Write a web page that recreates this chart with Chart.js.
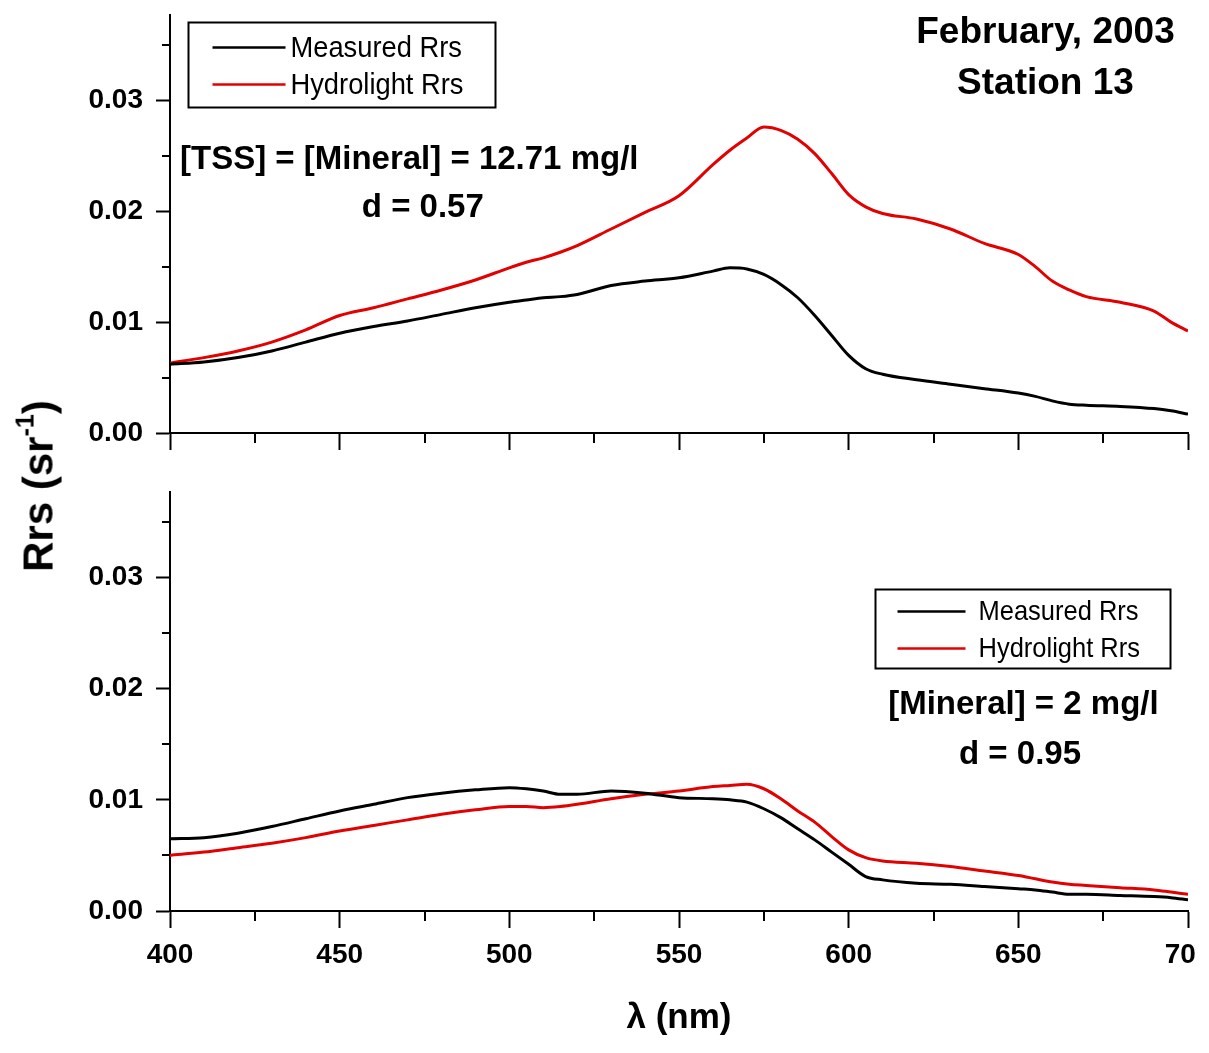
<!DOCTYPE html>
<html>
<head>
<meta charset="utf-8">
<script src="https://cdn.jsdelivr.net/npm/chart.js@4.4.0/dist/chart.umd.min.js"></script>
<style>
  body { margin: 0; background: #fff; }
  #page { position: relative; width: 1209px; height: 1053px; background: #fff; overflow: hidden; }
  canvas { position: absolute; left: 0; }
  #top-chart { top: 0; }
  #bottom-chart { top: 470px; }
  #y-title {
    position: absolute; left: 36px; top: 486px;
    transform: translate(-50%, -50%) rotate(-90deg);
    font: bold 42px 'Liberation Sans', Arial, sans-serif;
    white-space: nowrap; line-height: 1; color: #000;
  }
  #y-title sup { font-size: 60%; vertical-align: 0.75em; }
</style>
</head>
<body>
<div id="page">
  <canvas id="top-chart" width="1196" height="470"></canvas>
  <canvas id="bottom-chart" width="1196" height="583"></canvas>
  <div id="y-title">Rrs (sr<sup>-1</sup>)</div>
</div>
<script>
const FONT = "'Liberation Sans', Arial, sans-serif"
const RED = 'rgb(226, 0, 0)'

// wavelengths (nm) shared by all four curves
const wavelengths = [400, 410, 420, 430, 440, 450, 460, 470, 480, 490, 500, 505, 510, 515, 520, 530, 540, 550, 560, 565,
    570, 575, 580, 585, 590, 595, 600, 605, 610, 620, 630, 640, 650, 655, 660, 665, 670, 680, 690, 695, 700]

// February 2003, station 13 - [TSS] = 12.71 mg/l
const topMeasured = [0.0062, 0.0064, 0.0068, 0.0074, 0.0082, 0.0090, 0.0096, 0.0101, 0.0107, 0.0113, 0.0118, 0.0120, 0.0122,
    0.0123, 0.0125, 0.0133, 0.0137, 0.0140, 0.0146, 0.0149, 0.0148, 0.0143, 0.0134, 0.0122, 0.0106, 0.0088, 0.0070, 0.0058,
    0.0053, 0.0048, 0.0044, 0.0040, 0.0036, 0.0033, 0.0029, 0.0026, 0.0025, 0.0024, 0.0022, 0.0020, 0.0017]
const topHydrolight = [0.0063, 0.0068, 0.0074, 0.0082, 0.0093, 0.0106, 0.0113, 0.0121, 0.0129, 0.0138, 0.0149, 0.0154, 0.0158,
    0.0163, 0.0169, 0.0184, 0.0199, 0.0214, 0.0242, 0.0255, 0.0266, 0.0276, 0.0273, 0.0265, 0.0252, 0.0234, 0.0215, 0.0204,
    0.0198, 0.0193, 0.0184, 0.0171, 0.0161, 0.0150, 0.0137, 0.0129, 0.0123, 0.0118, 0.0110, 0.0100, 0.0092]

// [Mineral] = 2 mg/l
const bottomMeasured = [0.0065, 0.0066, 0.0070, 0.0076, 0.0083, 0.0090, 0.0096, 0.0102, 0.0106, 0.0109, 0.0111, 0.0110, 0.0108,
    0.0105, 0.0105, 0.0108, 0.0106, 0.0102, 0.0101, 0.0100, 0.0098, 0.0092, 0.0084, 0.0074, 0.0064, 0.0053, 0.0042, 0.0031,
    0.0028, 0.0025, 0.0024, 0.0022, 0.0020, 0.0019, 0.0017, 0.0015, 0.0015, 0.0014, 0.0013, 0.0012, 0.0010]
const bottomHydrolight = [0.0050, 0.0053, 0.0057, 0.0061, 0.0066, 0.0072, 0.0077, 0.0082, 0.0087, 0.0091, 0.0094, 0.0094, 0.0093,
    0.0094, 0.0096, 0.0101, 0.0105, 0.0108, 0.0112, 0.0113, 0.0114, 0.0110, 0.0101, 0.0090, 0.0080, 0.0067, 0.0055, 0.0048,
    0.0045, 0.0043, 0.0040, 0.0036, 0.0032, 0.0029, 0.0026, 0.0024, 0.0023, 0.0021, 0.0019, 0.0017, 0.0015]

const seriesLabels = ['Measured Rrs', 'Hydrolight Rrs']
const xMinorTicks = [425, 475, 525, 575, 625, 675]
const yMinorTicks = [0.005, 0.015, 0.025, 0.035]

// text notes, placed in data units (nm, sr^-1)
const topNotes = [
    { text: 'February, 2003', x: 658, y: 0.0361, size: 37 },
    { text: 'Station 13', x: 658, y: 0.0315, size: 37 },
    { text: '[TSS] = [Mineral] = 12.71 mg/l', x: 470.5, y: 0.0246, size: 33 },
    { text: 'd = 0.57', x: 474.5, y: 0.0203, size: 33 }
]
const bottomNotes = [
    { text: '[Mineral] = 2 mg/l', x: 651.5, y: 0.0185, size: 33 },
    { text: 'd = 0.95', x: 650.5, y: 0.0140, size: 33 }
]


const minorTicks = {
    id: 'minorTicks',
    afterDraw(chart) {
        const { ctx, chartArea, scales: { x, y } } = chart
        ctx.save()
        ctx.strokeStyle = '#000'
        ctx.lineWidth = 2
        ctx.beginPath()
        for (const v of xMinorTicks) {
            const px = Math.round(x.getPixelForValue(v))
            ctx.moveTo(px, chartArea.bottom)
            ctx.lineTo(px, chartArea.bottom + 10)
        }
        for (const v of yMinorTicks) {
            const py = Math.round(y.getPixelForValue(v))
            ctx.moveTo(chartArea.left, py)
            ctx.lineTo(chartArea.left - 8, py)
        }
        ctx.stroke()
        ctx.restore()
    }
}

const notes = {
    id: 'notes',
    afterDatasetsDraw(chart, args, opts) {
        const { ctx, scales: { x, y } } = chart
        ctx.save()
        ctx.fillStyle = '#000'
        ctx.textAlign = 'center'
        ctx.textBaseline = 'middle'
        for (const n of opts.texts) {
            ctx.font = `bold ${n.size}px ${FONT}`
            ctx.fillText(n.text, x.getPixelForValue(n.x), y.getPixelForValue(n.y))
        }

        // boxed legend inside the plot
        const lg = opts.legend
        const left = Math.round(x.getPixelForValue(lg.x)) + 0.5
        const top = Math.round(y.getPixelForValue(lg.y)) + 0.5
        ctx.fillStyle = '#fff'
        ctx.fillRect(left, top, lg.w, lg.h)
        ctx.strokeStyle = '#000'
        ctx.lineWidth = 2
        ctx.strokeRect(left, top, lg.w, lg.h)
        ctx.textAlign = 'left'
        ctx.font = `${lg.size}px ${FONT}`
        chart.data.datasets.forEach((ds, i) => {
            const ry = top + lg.rows[i]
            ctx.strokeStyle = ds.borderColor
            ctx.lineWidth = 2.5
            ctx.beginPath()
            ctx.moveTo(left + lg.lineFrom, ry)
            ctx.lineTo(left + lg.lineTo, ry)
            ctx.stroke()
            ctx.save()
            ctx.translate(left + lg.textAt, ry)
            ctx.scale(0.91, 1)
            ctx.fillStyle = '#000'
            ctx.fillText(ds.label, 0, 1)
            ctx.restore()
        })
        ctx.restore()
    }
}

const makeChart = (canvasId, measured, hydrolight, cfg) => {
    const tickFont = { family: FONT, size: 28, weight: 'bold' }
    return new Chart(document.getElementById(canvasId), {
        type: 'line',
        data: {
            datasets: [{
                label: seriesLabels[0],
                data: wavelengths.map((w, i) => ({ x: w, y: measured[i] })),
                borderColor: '#000',
                borderWidth: 3,
                pointRadius: 0,
                cubicInterpolationMode: 'monotone'
            }, {
                label: seriesLabels[1],
                data: wavelengths.map((w, i) => ({ x: w, y: hydrolight[i] })),
                borderColor: RED,
                borderWidth: 3,
                pointRadius: 0,
                cubicInterpolationMode: 'monotone'
            }]
        },
        options: {
            responsive: false,
            animation: false,
            devicePixelRatio: 1,
            layout: { padding: { top: cfg.padTop, right: 8, bottom: 0, left: 0 } },
            plugins: {
                legend: { display: false },
                tooltip: { enabled: false },
                notes: { texts: cfg.texts, legend: cfg.legend }
            },
            scales: {
                x: {
                    type: 'linear',
                    min: 400,
                    max: 700,
                    ticks: { stepSize: 50, display: cfg.xLabels, font: tickFont, color: '#000', padding: 10, maxRotation: 0, autoSkip: false },
                    grid: { drawOnChartArea: false, tickLength: 17, tickWidth: 2, tickColor: '#000' },
                    border: { color: '#000', width: 2 },
                    title: {
                        display: cfg.xLabels,
                        text: 'λ (nm)',
                        color: '#000',
                        font: { family: FONT, size: 35, weight: 'bold' },
                        padding: { top: 0, bottom: 14 }
                    },
                    afterFit: s => {
                        s.height = cfg.xHeight
                        s.paddingLeft = 0
                        s.paddingRight = 0
                    }
                },
                y: {
                    min: 0,
                    max: 0.0377,
                    ticks: { stepSize: 0.01, includeBounds: false, callback: v => v.toFixed(2), font: tickFont, color: '#000', padding: 13 },
                    grid: { drawOnChartArea: false, tickLength: 14, tickWidth: 2, tickColor: '#000' },
                    border: { color: '#000', width: 2 },
                    afterFit: s => {
                        s.width = 170
                        s.paddingTop = 0
                        s.paddingBottom = 0
                    }
                }
            }
        },
        plugins: [minorTicks, notes]
    })
}

makeChart('top-chart', topMeasured, topHydrolight, {
    padTop: 15,
    xHeight: 37,
    xLabels: false,
    texts: topNotes,
    legend: { x: 405.3, y: 0.0371, w: 307, h: 85, size: 30, rows: [25, 62], lineFrom: 24, lineTo: 97, textAt: 102 }
})

makeChart('bottom-chart', bottomMeasured, bottomHydrolight, {
    padTop: 22,
    xHeight: 142,
    xLabels: true,
    texts: bottomNotes,
    legend: { x: 607.8, y: 0.0290, w: 295, h: 79, size: 28, rows: [22, 59], lineFrom: 22, lineTo: 90, textAt: 103 }
})
</script>
</body>
</html>
